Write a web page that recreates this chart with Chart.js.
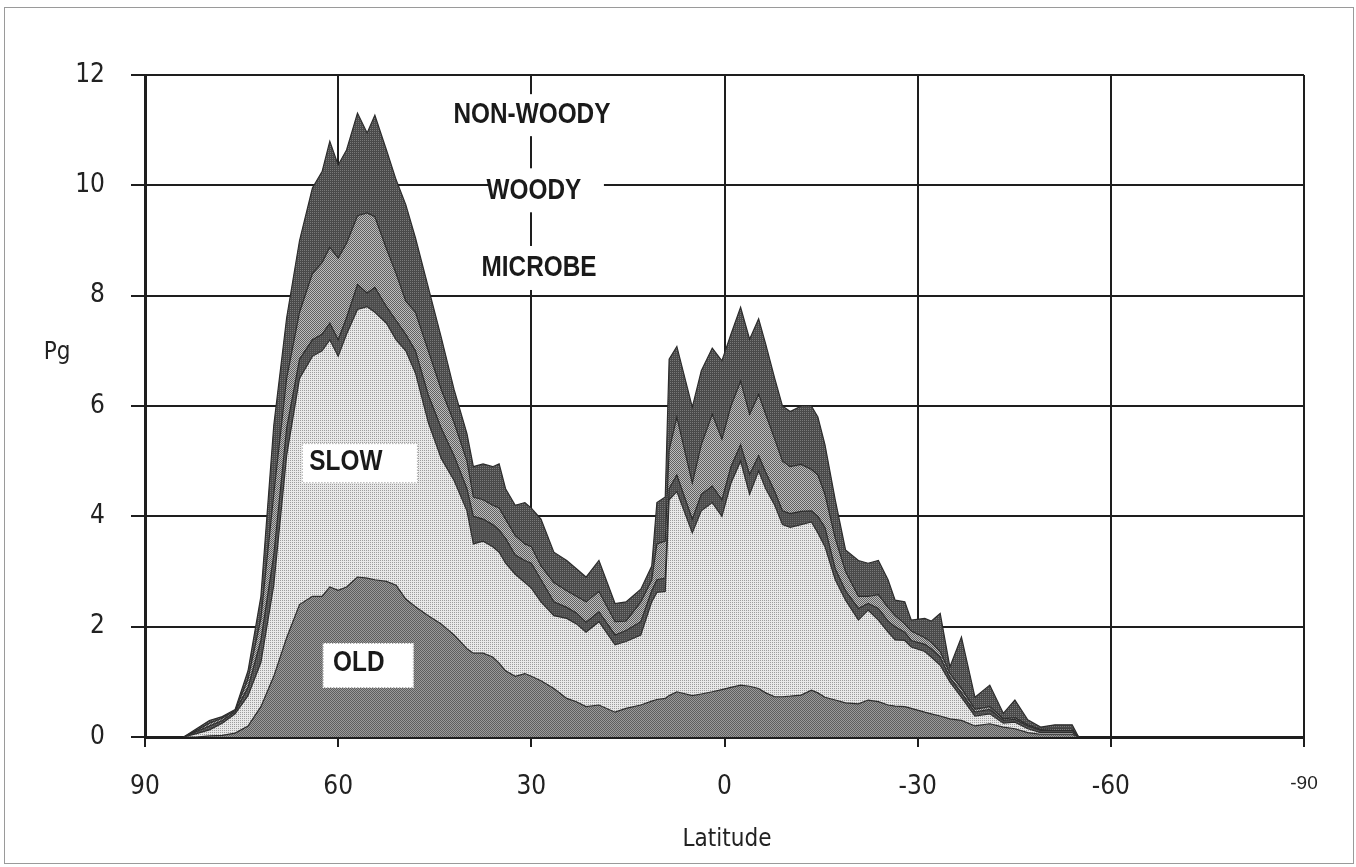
<!DOCTYPE html>
<html>
<head>
<meta charset="utf-8">
<script src="https://cdn.jsdelivr.net/npm/chart.js@4.4.1/dist/chart.umd.min.js"></script>
<style>
  html, body { margin: 0; padding: 0; background: #fff; }
  #wrap { width: 1356px; height: 867px; }
</style>
</head>
<body>
<div id="wrap"><canvas id="chart" width="1356" height="867"></canvas></div>
<script>
// latitude (deg) of each sample, north to south
const latitude = [84, 82, 80, 78, 76, 74, 72, 70, 68, 66,
    64, 62.5, 61.3, 60, 58.7, 57, 55.5, 54.3, 52.5, 51,
    49.5, 48, 46, 44, 42, 40, 39, 37.5, 36, 35,
    34, 32.5, 31, 30, 28.5, 26.5, 24.5, 23, 21.5, 19.5,
    17, 15.3, 13, 11.3, 10.5, 9.2, 8.6, 7.4, 5, 3.6,
    1.9, 0.4, -1, -2.5, -3.9, -5.3, -6.4, -7.8, -9, -10.2,
    -11.9, -13.5, -14.5, -15.6, -17.2, -18.8, -20.8, -22.3, -23.9, -25.4,
    -26.5, -28, -29, -31.1, -32.1, -33.5, -35, -36.8, -38.9, -41.2,
    -43.3, -45.1, -47.1, -49.1, -51.3, -54, -55];

// carbon in each pool, Pg (stacked from the bottom up)
const oldPool = [0, 0, 0.02, 0.03, 0.07, 0.2, 0.55, 1.1, 1.8, 2.4,
    2.55, 2.55, 2.72, 2.66, 2.72, 2.9, 2.88, 2.85, 2.82, 2.75,
    2.5, 2.36, 2.2, 2.05, 1.85, 1.6, 1.52, 1.52, 1.45, 1.34,
    1.2, 1.1, 1.15, 1.1, 1.02, 0.88, 0.7, 0.64, 0.55, 0.58,
    0.45, 0.52, 0.58, 0.65, 0.68, 0.7, 0.75, 0.82, 0.75, 0.78,
    0.82, 0.86, 0.9, 0.94, 0.92, 0.88, 0.8, 0.73, 0.73, 0.74,
    0.76, 0.85, 0.8, 0.72, 0.67, 0.62, 0.6, 0.67, 0.64, 0.58,
    0.56, 0.55, 0.52, 0.45, 0.42, 0.38, 0.33, 0.3, 0.2, 0.24,
    0.18, 0.15, 0.08, 0.05, 0.05, 0.05, 0];
const slowPool = [0, 0.06, 0.11, 0.22, 0.35, 0.55, 0.8, 1.65, 3.3, 4.1,
    4.35, 4.45, 4.48, 4.24, 4.58, 4.85, 4.92, 4.85, 4.68, 4.45,
    4.5, 4.24, 3.5, 3.0, 2.8, 2.5, 1.98, 2.03, 2.0, 2.01,
    1.95, 1.85, 1.65, 1.6, 1.43, 1.32, 1.45, 1.41, 1.35, 1.51,
    1.22, 1.21, 1.27, 1.8, 1.94, 1.94, 3.55, 3.63, 2.95, 3.32,
    3.43, 3.14, 3.7, 4.06, 3.48, 3.94, 3.7, 3.47, 3.12, 3.06,
    3.09, 3.05, 2.9, 2.73, 2.18, 1.86, 1.52, 1.63, 1.48, 1.32,
    1.2, 1.2, 1.11, 1.1, 1.03, 0.92, 0.67, 0.42, 0.18, 0.18,
    0.07, 0.12, 0.07, 0.03, 0.03, 0.03, 0];
const microbePool = [0, 0.04, 0.07, 0.05, 0.04, 0.15, 0.4, 0.55, 0.5, 0.35,
    0.3, 0.3, 0.3, 0.3, 0.3, 0.45, 0.25, 0.45, 0.3, 0.35,
    0.3, 0.4, 0.5, 0.55, 0.45, 0.4, 0.5, 0.4, 0.4, 0.4,
    0.45, 0.35, 0.4, 0.45, 0.4, 0.25, 0.2, 0.2, 0.18, 0.18,
    0.18, 0.2, 0.24, 0.2, 0.23, 0.24, 0.2, 0.3, 0.25, 0.3,
    0.3, 0.3, 0.3, 0.3, 0.36, 0.28, 0.3, 0.25, 0.25, 0.25,
    0.24, 0.2, 0.3, 0.35, 0.2, 0.17, 0.21, 0.12, 0.21, 0.2,
    0.24, 0.15, 0.12, 0.13, 0.15, 0.15, 0.08, 0.08, 0.07, 0.08,
    0.05, 0.05, 0.05, 0.04, 0.04, 0.04, 0];
const woodyPool = [0, 0.02, 0.05, 0.04, 0.02, 0.15, 0.4, 1.1, 0.9, 0.85,
    1.2, 1.3, 1.38, 1.48, 1.35, 1.25, 1.45, 1.28, 1.05, 0.85,
    0.6, 0.7, 0.8, 0.7, 0.6, 0.5, 0.35, 0.35, 0.35, 0.4,
    0.35, 0.35, 0.3, 0.3, 0.25, 0.35, 0.3, 0.3, 0.37, 0.37,
    0.24, 0.17, 0.36, 0.2, 0.65, 0.67, 0.7, 1.05, 0.65, 0.9,
    1.3, 1.1, 1.1, 1.15, 1.09, 1.11, 1.05, 0.95, 0.9, 0.85,
    0.85, 0.75, 0.75, 0.6, 0.55, 0.35, 0.22, 0.13, 0.25, 0.25,
    0.2, 0.15, 0.17, 0.12, 0.12, 0.1, 0.07, 0.08, 0.05, 0.05,
    0.03, 0.03, 0.02, 0.02, 0.03, 0.03, 0];
const nonWoodyPool = [0, 0.03, 0.05, 0.03, 0.02, 0.15, 0.4, 1.25, 1.1, 1.3,
    1.55, 1.65, 1.92, 1.69, 1.69, 1.86, 1.45, 1.84, 1.79, 1.7,
    1.75, 1.35, 1.15, 0.95, 0.6, 0.5, 0.55, 0.65, 0.7, 0.8,
    0.55, 0.55, 0.75, 0.7, 0.85, 0.55, 0.55, 0.5, 0.45, 0.56,
    0.33, 0.35, 0.23, 0.25, 0.75, 0.8, 1.65, 1.28, 1.38, 1.34,
    1.2, 1.42, 1.3, 1.34, 1.36, 1.37, 1.27, 1.1, 1.0, 1.0,
    1.06, 1.15, 1.05, 0.9, 0.7, 0.39, 0.65, 0.6, 0.62, 0.5,
    0.28, 0.4, 0.2, 0.35, 0.38, 0.69, 0.12, 0.93, 0.22, 0.39,
    0.1, 0.32, 0.09, 0.04, 0.07, 0.07, 0];

const xTicks = [90, 60, 30, 0, -30, -60, -90];
const yTicks = [0, 2, 4, 6, 8, 10, 12];

const axisFont = '"Liberation Sans Narrow", "DejaVu Sans Condensed", sans-serif';

// halftone-ish fills like the printed figure
function makePattern(size, base, dots, dotColor) {
    const c = document.createElement('canvas');
    c.width = size;
    c.height = size;
    const g = c.getContext('2d');
    g.fillStyle = base;
    g.fillRect(0, 0, size, size);
    g.fillStyle = dotColor;
    dots.forEach(d => g.fillRect(d[0], d[1], 1, 1));
    return g.createPattern(c, 'repeat');
}

const ctx = document.getElementById('chart').getContext('2d');
const fills = {
    old: makePattern(2, '#9a9a9a', [[0, 0], [1, 1]], '#5e5e5e'),
    slow: makePattern(2, '#e8e8e8', [[0, 0]], '#9c9c9c'),
    microbe: makePattern(2, '#4c4c4c', [[0, 0]], '#6a6a6a'),
    woody: makePattern(2, '#bdbdbd', [[0, 0], [1, 1]], '#606060'),
    nonWoody: makePattern(2, '#4a4a4a', [[0, 0]], '#787878'),
};

function series(label, values, fill, first) {
    return {
        label: label,
        data: latitude.map((lat, i) => ({ x: lat, y: values[i] })),
        backgroundColor: fill,
        borderColor: '#2c2c2c',
        borderWidth: 1.2,
        pointRadius: 0,
        tension: 0,
        fill: first ? 'origin' : '-1',
    };
}

const labelBoxes = [
    { text: 'NON-WOODY', lat: 29.9, val: 11.29, box: [-70, -20, 141, 42], dotted: false },
    { text: 'WOODY', lat: 29.6, val: 9.91, box: [-45, -22, 115, 44], dotted: false },
    { text: 'MICROBE', lat: 28.8, val: 8.52, box: [-54, -21, 106, 44], dotted: false },
    { text: 'SLOW', lat: 58.8, val: 5.0, box: [-44, -18, 116, 40], dotted: true },
    { text: 'OLD', lat: 56.8, val: 1.36, box: [-36, -19, 91, 45], dotted: true },
];

const annotations = {
    id: 'annotations',
    afterDatasetsDraw(chart) {
        const c = chart.ctx;
        const xs = chart.scales.x, ys = chart.scales.y;
        labelBoxes.forEach(l => {
            const cx = xs.getPixelForValue(l.lat);
            const cy = ys.getPixelForValue(l.val);
            c.save();
            c.fillStyle = '#ffffff';
            c.fillRect(cx + l.box[0], cy + l.box[1], l.box[2], l.box[3]);
            if (l.dotted) {
                c.strokeStyle = '#8a8a8a';
                c.lineWidth = 1;
                c.setLineDash([1, 2]);
                c.strokeRect(cx + l.box[0] + 0.5, cy + l.box[1] + 0.5, l.box[2] - 1, l.box[3] - 1);
                c.setLineDash([]);
            }
            c.font = 'bold 29px "Liberation Sans Narrow", "Liberation Sans", Arial, sans-serif';
            c.fillStyle = '#1a1a1a';
            c.textAlign = 'center';
            c.textBaseline = 'middle';
            c.translate(cx, cy + 1);
            c.scale(0.84, 1);
            c.fillText(l.text, 0, 0);
            c.restore();
        });
    },
    afterDraw(chart) {
        const c = chart.ctx;
        c.save();
        c.strokeStyle = '#9a9a9a';
        c.lineWidth = 1;
        c.strokeRect(4.5, 7.5, 1349, 856);
        c.fillStyle = '#222';
        c.textAlign = 'center';
        c.textBaseline = 'middle';
        c.font = '24px ' + axisFont;
        c.fillText('Pg', 57, 353);
        c.fillText('Latitude', 727, 840);
        c.restore();
    }
};

new Chart(ctx, {
    type: 'line',
    data: {
        datasets: [
            series('OLD', oldPool, fills.old, true),
            series('SLOW', slowPool, fills.slow),
            series('MICROBE', microbePool, fills.microbe),
            series('WOODY', woodyPool, fills.woody),
            series('NON-WOODY', nonWoodyPool, fills.nonWoody),
        ],
    },
    options: {
        responsive: false,
        animation: false,
        devicePixelRatio: 1,
        layout: { padding: { top: 75, right: 52, bottom: 0, left: 0 } },
        plugins: {
            legend: { display: false },
            tooltip: { enabled: false },
        },
        scales: {
            x: {
                type: 'linear',
                min: -90,
                max: 90,
                reverse: true,
                afterBuildTicks: s => { s.ticks = xTicks.map(v => ({ value: v })); },
                afterFit: s => { s.height = 130; },
                grid: { color: '#1e1e1e', lineWidth: 2, tickLength: 10 },
                border: { color: '#1e1e1e', width: 3 },
                ticks: {
                    padding: 25,
                    color: '#222',
                    maxRotation: 0,
                    font: c => (c.tick && c.tick.value === -90)
                        ? { family: '"Liberation Sans", Arial, sans-serif', size: 19 }
                        : { family: axisFont, size: 26 },
                },
            },
            y: {
                stacked: true,
                min: 0,
                max: 12,
                afterBuildTicks: s => { s.ticks = yTicks.map(v => ({ value: v })); },
                afterFit: s => { s.width = 145; },
                grid: { color: '#1e1e1e', lineWidth: 2, tickLength: 14 },
                border: { color: '#1e1e1e', width: 3 },
                ticks: {
                    padding: 26,
                    color: '#222',
                    font: { family: axisFont, size: 26 },
                },
            },
        },
    },
    plugins: [annotations],
});
</script>
</body>
</html>
